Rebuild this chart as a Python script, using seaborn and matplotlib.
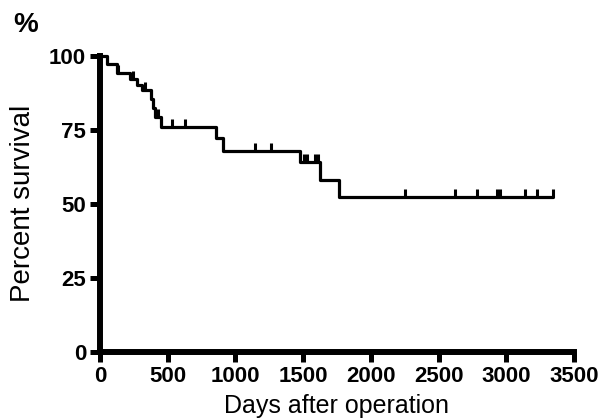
import numpy as np
import pandas as pd
import matplotlib
matplotlib.use("Agg")
import matplotlib.pyplot as plt
import seaborn as sns

# Kaplan-Meier step data (days, percent survival after the step)
step_days = [0, 55, 128, 225, 275, 312, 380, 392, 405, 448, 857, 910, 1480, 1625, 1765, 3345]
step_surv = [100, 97.1, 94.1, 92.0, 90.2, 88.3, 85.4, 82.4, 79.4, 75.8, 72.1, 68.0, 64.0, 58.0, 52.3, 52.3]

# censored observations (tick marks)
censor_days = [135, 240, 330, 425, 530, 628, 1145, 1265, 1505, 1525, 1590, 1608,
               2252, 2622, 2782, 2935, 2950, 3139, 3225, 3345]

x_ticks = [0, 500, 1000, 1500, 2000, 2500, 3000, 3500]
y_ticks = [0, 25, 50, 75, 100]

sns.set_style("ticks")
plt.rcParams["font.family"] = ["Liberation Sans", "DejaVu Sans"]
plt.rcParams["text.color"] = "black"
plt.rcParams["axes.labelcolor"] = "black"
plt.rcParams["xtick.color"] = "black"
plt.rcParams["ytick.color"] = "black"

fig = plt.figure(figsize=(6.16, 4.19), dpi=100)
ax = fig.add_axes([100 / 616, 1 - 352 / 419, 474 / 616, 296.3 / 419])

df = pd.DataFrame({"days": step_days, "survival": step_surv})
sns.lineplot(data=df, x="days", y="survival", drawstyle="steps-post",
             estimator=None, color="black", linewidth=2.3, ax=ax)

# survival level at each censor time from the step function
idx = np.searchsorted(np.array(step_days), np.array(censor_days), side="right") - 1
censor_surv = np.array(step_surv)[idx]
cdf = pd.DataFrame({"days": censor_days, "survival": censor_surv})
sns.scatterplot(data=cdf, x="days", y="survival", marker=2, s=30,
                color="black", linewidth=2.2, ax=ax, clip_on=False, zorder=3)

for line in ax.lines:
    line.set_clip_on(False)

ax.set_xlim(0, 3500)
ax.set_ylim(0, 100)
ax.set_xticks(x_ticks)
ax.set_yticks(y_ticks)
ax.set_xticklabels([str(v) for v in x_ticks])
ax.set_yticklabels([str(v) for v in y_ticks])

for s in ["top", "right"]:
    ax.spines[s].set_visible(False)
for s in ["left", "bottom"]:
    ax.spines[s].set_linewidth(4.3)
    ax.spines[s].set_color("black")
    ax.spines[s].set_capstyle("projecting")

ax.tick_params(axis="both", direction="out", length=7, width=3.6, color="black",
               labelcolor="black", labelsize=16, pad=3)
for lab in ax.get_xticklabels() + ax.get_yticklabels():
    lab.set_fontweight("bold")

ax.set_xlabel("Days after operation", fontsize=18, labelpad=5, color="black")
ax.set_ylabel("Percent survival", fontsize=20, labelpad=9, color="black")

fig.text(13 / 616, 1 - 32 / 419, "%", fontsize=20, fontweight="bold", ha="left",
         va="baseline", color="black")

fig.savefig("out.png", dpi=100, facecolor="white")
